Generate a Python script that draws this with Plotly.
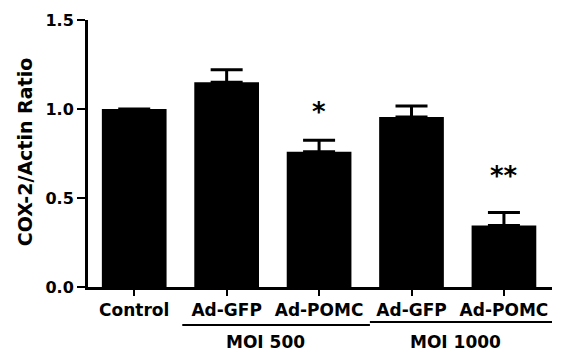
import plotly.graph_objects as go

categories = ["Control", "Ad-GFP", "Ad-POMC", "Ad-GFP ", "Ad-POMC "]
tick_labels = ["Control", "Ad-GFP", "Ad-POMC", "Ad-GFP", "Ad-POMC"]
ratio = [1.00, 1.15, 0.76, 0.955, 0.345]
sem = [0.0, 0.07, 0.065, 0.062, 0.073]
sig_labels = ["", "", "*", "", "**"]
sig_y = [None, None, 1.00, None, 0.64]
groups = ["MOI 500", "MOI 1000"]
group_spans = [(0.52, 2.55), (2.55, 4.60)]
group_label_x = [1.42, 3.48]
y_ticks = [0.0, 0.5, 1.0, 1.5]
y_title = "COX-2/Actin Ratio"

FONT = "DejaVu Sans"
xs = list(range(len(categories)))

fig = go.Figure()
fig.add_trace(go.Bar(
    x=xs, y=ratio, width=0.7,
    marker=dict(color="black", line=dict(width=0)),
    error_y=dict(type="data", array=sem, arrayminus=[0]*len(sem), symmetric=False,
                 color="black", thickness=3, width=16),
))

for x, lab, yy in zip(xs, sig_labels, sig_y):
    if lab:
        fig.add_annotation(x=x, y=yy, text=lab, showarrow=False, xref="x", yref="y",
                           yanchor="middle", yshift=-3,
                           font=dict(family=FONT, size=26, color="black", weight="bold"))

for (x0, x1), name, lx, yp in zip(group_spans, groups, group_label_x, [-0.142, -0.131]):
    fig.add_shape(type="line", xref="x", yref="paper", x0=x0, x1=x1, y0=yp, y1=yp,
                  line=dict(color="black", width=2))
    fig.add_annotation(x=lx, y=-0.206, xref="x", yref="paper", text=name, showarrow=False,
                       yanchor="middle",
                       font=dict(family=FONT, size=17, color="black", weight="bold"))

fig.add_annotation(x=-63 / 464, y=0.505, xref="paper", yref="paper", text=y_title,
                   textangle=-90, showarrow=False, xanchor="center", yanchor="middle",
                   font=dict(family=FONT, size=19, color="black", weight="bold"))

# the page body adds an 8px offset; margins compensate for it
fig.update_layout(
    width=566, height=353,
    margin=dict(l=80, r=22, t=12, b=74, autoexpand=False),
    paper_bgcolor="white", plot_bgcolor="white",
    showlegend=False,
    font=dict(family=FONT, color="black"),
    xaxis=dict(range=[-0.5, 4.52], tickmode="array", tickvals=xs, ticktext=tick_labels,
               automargin=False,
               showline=True, linecolor="black", linewidth=3, ticks="outside", ticklen=6,
               tickwidth=2, tickcolor="black", showgrid=False, zeroline=False,
               tickfont=dict(family=FONT, size=17, color="black", weight="bold")),
    yaxis=dict(range=[0, 1.5], tickmode="array", tickvals=y_ticks,
               ticktext=[f"{v:.1f}" for v in y_ticks], automargin=False,
               showline=True, linecolor="black", linewidth=3, ticks="outside", ticklen=8,
               tickwidth=2, tickcolor="black", showgrid=False, zeroline=False,
               tickfont=dict(family=FONT, size=16, color="black", weight="bold")),
)
fig.write_html("out.html")
